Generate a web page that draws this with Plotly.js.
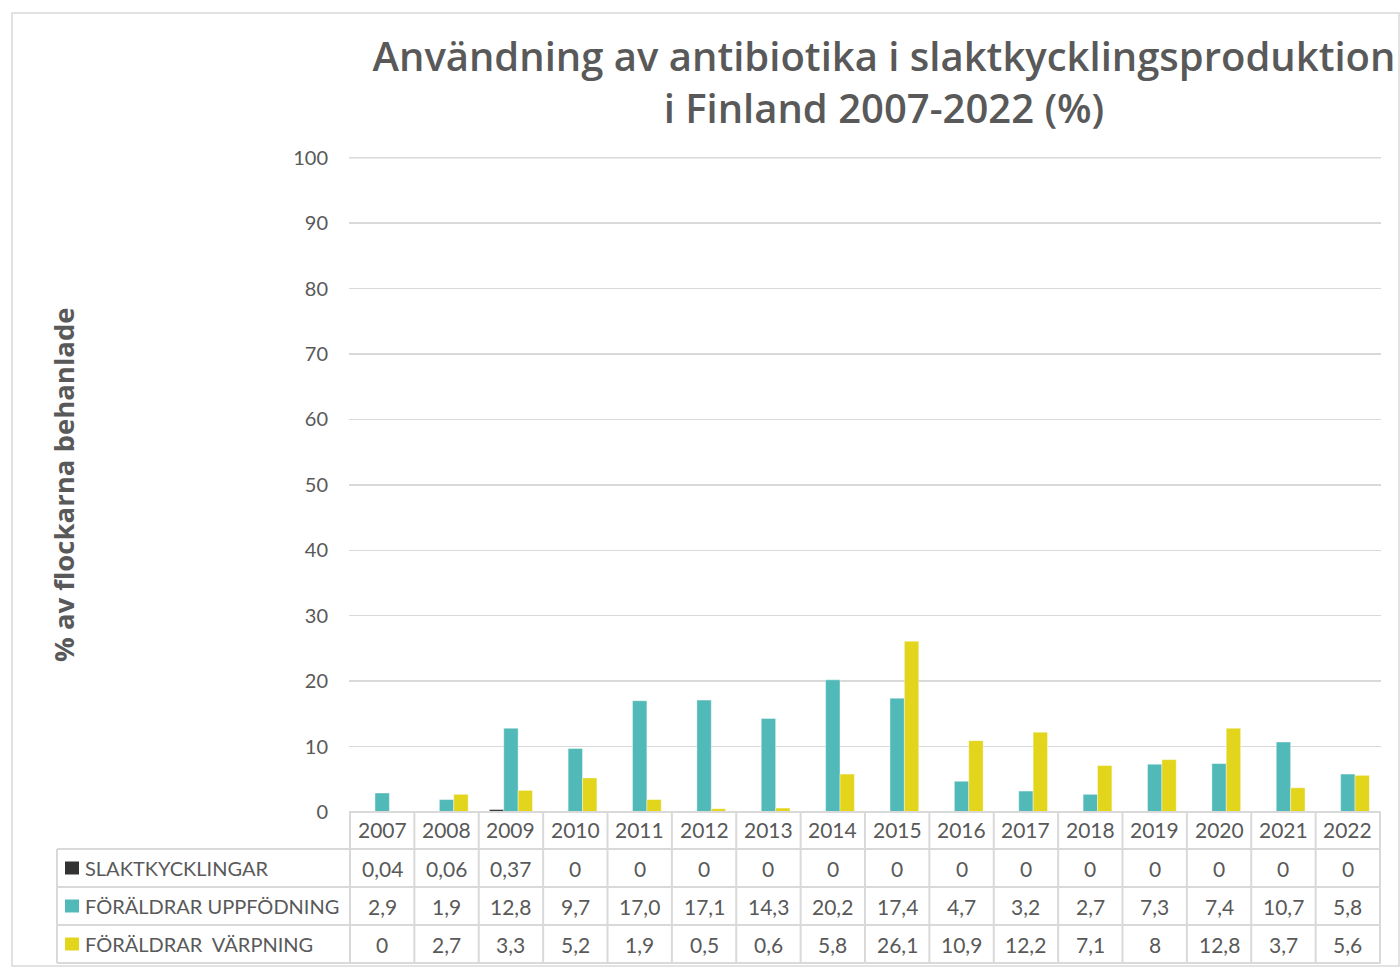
<!DOCTYPE html>
<html>
<head>
<meta charset="utf-8">
<script src="https://cdn.plot.ly/plotly-3.0.1.min.js"></script>
<style>
html,body{margin:0;padding:0;background:#fff;}
#chart{width:1400px;height:967px;}
</style>
</head>
<body>
<div id="chart"></div>
<script>
const years = ["2007","2008","2009","2010","2011","2012","2013","2014","2015","2016","2017","2018","2019","2020","2021","2022"];
const seriesNames = ["SLAKTKYCKLINGAR", "FÖRÄLDRAR UPPFÖDNING", "FÖRÄLDRAR\u00a0 VÄRPNING"];
const slaktkycklingar = [0.04,0.06,0.37,0,0,0,0,0,0,0,0,0,0,0,0,0];
const uppfodning = [2.9,1.9,12.8,9.7,17.0,17.1,14.3,20.2,17.4,4.7,3.2,2.7,7.3,7.4,10.7,5.8];
const varpning = [0,2.7,3.3,5.2,1.9,0.5,0.6,5.8,26.1,10.9,12.2,7.1,8,12.8,3.7,5.6];
const slaktLabels = ["0,04","0,06","0,37","0","0","0","0","0","0","0","0","0","0","0","0","0"];
const uppLabels = ["2,9","1,9","12,8","9,7","17,0","17,1","14,3","20,2","17,4","4,7","3,2","2,7","7,3","7,4","10,7","5,8"];
const varpLabels = ["0","2,7","3,3","5,2","1,9","0,5","0,6","5,8","26,1","10,9","12,2","7,1","8","12,8","3,7","5,6"];
const yTicks = [0,10,20,30,40,50,60,70,80,90,100];

const colors = ["#333333", "#52B9B9", "#E3D41C"];
const gray = "#595959";
const lineGray = "#d9d9d9";

const seriesValues = [slaktkycklingar, uppfodning, varpning];
const seriesLabels = [slaktLabels, uppLabels, varpLabels];

const traces = seriesValues.map((vals, i) => ({
  type: "bar",
  name: seriesNames[i],
  x: years,
  y: vals,
  marker: {color: colors[i], line: {color: "rgba(255,255,255,0.5)", width: 0.8}},
  hoverinfo: "x+y+name"
}));

const plotL = 349, plotR = 1381, plotT = 157, plotB = 812;
const pw = plotR - plotL, ph = plotB - plotT;
const px = v => (v - plotL) / pw;
const py = v => (plotB - v) / ph;

const rowLines = [812, 849, 887, 925, 963];
const rowCenters = [868, 906, 944];
const yearCenter = 830;

const shapes = [];
const annotations = [];

shapes.push({type:"rect", xref:"paper", yref:"paper", x0:px(12), x1:px(1399), y0:py(966), y1:py(13),
  line:{color:lineGray, width:1.5}, fillcolor:"rgba(0,0,0,0)", layer:"below"});

// top gridline at the axis maximum (Plotly skips grid lines at the range edge)
shapes.push({type:"line", xref:"paper", yref:"y", x0:0, x1:1, y0:yTicks[yTicks.length-1], y1:yTicks[yTicks.length-1],
  line:{color:lineGray, width:1.5}, layer:"below"});

shapes.push({type:"line", xref:"paper", yref:"paper", x0:0, x1:1, y0:py(812), y1:py(812), line:{color:lineGray, width:2}});
for (let k = 1; k < rowLines.length; k++) {
  shapes.push({type:"line", xref:"paper", yref:"paper", x0:px(57), x1:1, y0:py(rowLines[k]), y1:py(rowLines[k]), line:{color:lineGray, width:2}});
}
for (let i = 0; i <= years.length; i++) {
  shapes.push({type:"line", xref:"x", yref:"paper", x0:i-0.5, x1:i-0.5, y0:py(812), y1:py(963), line:{color:lineGray, width:2}});
}
shapes.push({type:"line", xref:"paper", yref:"paper", x0:px(57), x1:px(57), y0:py(849), y1:py(963), line:{color:lineGray, width:2}});

seriesNames.forEach((name, r) => {
  const c = rowCenters[r];
  shapes.push({type:"rect", xref:"paper", yref:"paper", x0:px(65), x1:px(79), y0:py(c+6.5), y1:py(c-6.5),
    fillcolor: colors[r], line:{width:0}});
  annotations.push({xref:"paper", yref:"paper", x:px(83), y:py(c), xanchor:"left", yanchor:"middle",
    text:name, showarrow:false, font:{family:"Lato, 'Noto Sans', sans-serif", size:20, color:gray}});
});

seriesLabels.forEach((labels, r) => {
  labels.forEach((t, i) => {
    annotations.push({xref:"x", yref:"paper", x:i, y:py(rowCenters[r]), xanchor:"center", yanchor:"middle",
      text:t, showarrow:false, font:{family:"Lato, 'Noto Sans', sans-serif", size:21, color:gray}});
  });
});

years.forEach((yr, i) => {
  annotations.push({xref:"x", yref:"paper", x:i, y:py(yearCenter), xanchor:"center", yanchor:"middle",
    text:yr, showarrow:false, font:{family:"Lato, 'Noto Sans', sans-serif", size:21, color:gray}});
});

annotations.push({xref:"paper", yref:"paper", x:px(63), y:py(485), xanchor:"center", yanchor:"middle",
  text:"<b>% av flockarna behanlade</b>", textangle:-90, showarrow:false,
  font:{family:"'Open Sans', sans-serif", size:27.5, color:gray}});

const layout = {
  width:1400, height:967,
  paper_bgcolor:"#ffffff", plot_bgcolor:"#ffffff",
  margin:{l:plotL, r:1400-plotR, t:plotT, b:967-plotB, pad:0},
  title:{text:"Användning av antibiotika i slaktkycklingsproduktion<br>i Finland 2007-2022 (%)",
    x:884/1400, xanchor:"center", y:1-(71/967), yanchor:"top",
    font:{family:"'Open Sans', sans-serif", size:40, color:gray, weight:600}},
  showlegend:false,
  barmode:"group",
  bargap:0.33,
  bargroupgap:0,
  xaxis:{type:"category", showticklabels:false, showgrid:false, zeroline:false, showline:false, ticks:"", fixedrange:true},
  yaxis:{range:[0,100.1], tickvals:yTicks, ticktext:yTicks.map(String), showgrid:true, gridcolor:lineGray, gridwidth:1.5,
    zeroline:false, showline:false, ticks:"", ticklabelstandoff:20,
    tickfont:{family:"Lato, 'Noto Sans', sans-serif", size:20, color:gray}, fixedrange:true},
  shapes:shapes,
  annotations:annotations,
  font:{family:"Lato, sans-serif", color:gray}
};

Plotly.newPlot("chart", traces, layout, {displayModeBar:false, staticPlot:true});
</script>
</body>
</html>
